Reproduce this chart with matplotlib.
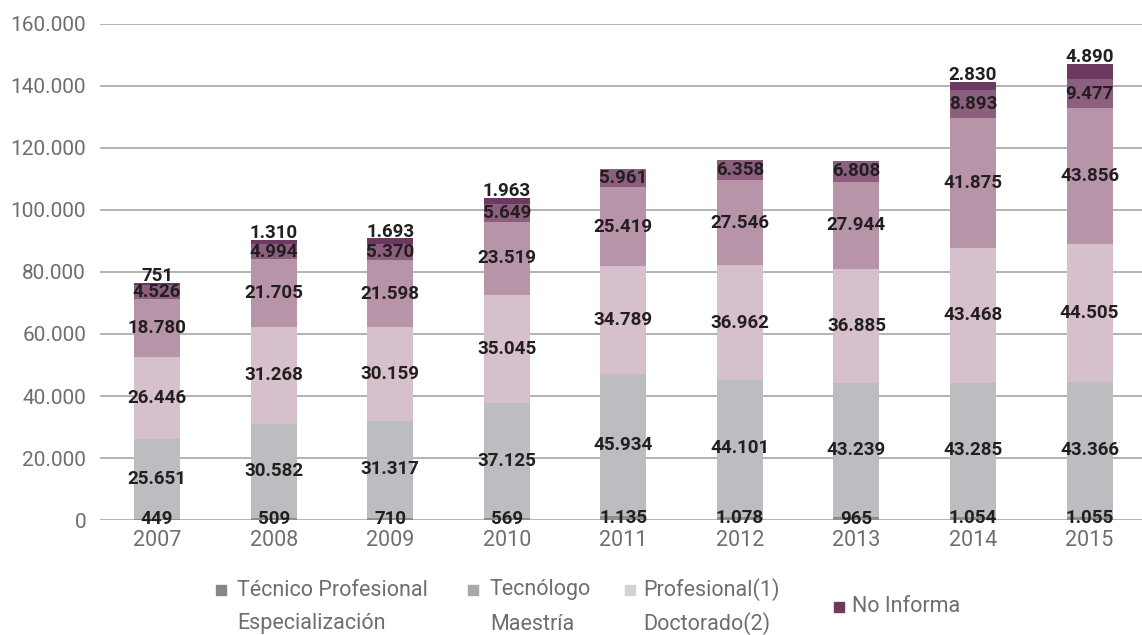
import matplotlib
matplotlib.use("Agg")
import matplotlib.pyplot as plt
from matplotlib.patches import Rectangle
import numpy as np

years = ["2007", "2008", "2009", "2010", "2011", "2012", "2013", "2014", "2015"]
tecnico = [449, 509, 710, 569, 1135, 1078, 965, 1054, 1055]
tecnologo = [25651, 30582, 31317, 37125, 45934, 44101, 43239, 43285, 43366]
profesional = [26446, 31268, 30159, 35045, 34789, 36962, 36885, 43468, 44505]
especializacion = [18780, 21705, 21598, 23519, 25419, 27546, 27944, 41875, 43856]
maestria = [4526, 4994, 5370, 5649, 5961, 6358, 6808, 8893, 9477]
doctorado = [751, 1310, 1693, 1963, 0, 0, 0, 2830, 4890]

yticks = [0, 20000, 40000, 60000, 80000, 100000, 120000, 140000, 160000]

series = [tecnico, tecnologo, profesional, especializacion, maestria, doctorado]
colors = ['#8d8e92', '#bcbdc0', '#d6c0cb', '#b894a9', '#8c5f7e', '#6c3a60']

plt.rcParams['font.family'] = ['Roboto', 'DejaVu Sans']

fig = plt.figure(figsize=(11.42, 6.35), dpi=100)
ax = fig.add_axes([100 / 1142, 1 - 520 / 635, 1 - 100 / 1142, (520 - 24) / 635])

x = np.arange(len(years))
bottom = np.zeros(len(years))
label_color = '#231f20'
gray = '#6d6e71'


def fmt(v):
    return f"{v:,}".replace(",", ".")


for i, (vals, col) in enumerate(zip(series, colors)):
    vals = np.array(vals, dtype=float)
    ax.bar(x, vals, 0.395, bottom=bottom, color=col, zorder=3, linewidth=0)
    for xi, b, v in zip(x, bottom, vals):
        if v <= 0:
            continue
        if i == len(series) - 1:
            ax.text(xi, b + v - 700, fmt(int(v)), ha='center', va='bottom',
                    fontsize=13.5, fontweight='bold', color=label_color, zorder=5)
        else:
            ax.text(xi, b + v / 2, fmt(int(v)), ha='center', va='center',
                    fontsize=13.5, fontweight='bold', color=label_color, zorder=5)
    bottom += vals

ax.set_xlim(-0.49, 8.45)
ax.set_ylim(0, 160000)
ax.set_yticks(yticks)
ax.set_yticklabels([fmt(t) for t in yticks])
ax.set_xticks(x)
ax.set_xticklabels(years)
ax.tick_params(axis='y', length=0, pad=10, labelsize=15, labelcolor=gray)
ax.tick_params(axis='x', length=0, pad=7, labelsize=15.5, labelcolor=gray)
ax.grid(axis='y', color='#a7a7a9', linewidth=1.2, zorder=0)
ax.set_axisbelow(True)
for s in ax.spines.values():
    s.set_visible(False)

# legend drawn by hand (labels wrap oddly in the original)
W, H = 1142, 635
legend_items = [
    (216, 237, 590, '#858689', 'Técnico Profesional'),
    (468, 490, 590, '#a7a8ab', 'Tecnólogo'),
    (625, 643, 590, '#d1d2d4', 'Profesional(1)'),
    (834, 852, 607, '#6c3a60', 'No Informa'),
]
for sx, tx, py, col, lab in legend_items:
    fig.patches.append(Rectangle((sx / W, 1 - (py + 5) / H), 10 / W, 10 / H,
                                 transform=fig.transFigure, color=col))
    fig.text(tx / W, 1 - py / H, lab, ha='left', va='center',
             fontsize=15.5, color=gray)

second_row = [(237, 'Especialización'), (490, 'Maestría'), (643, 'Doctorado(2)')]
for tx, lab in second_row:
    fig.text(tx / W, 1 - 624 / H, lab, ha='left', va='center',
             fontsize=15.5, color=gray)

fig.savefig("out.png", dpi=100)
